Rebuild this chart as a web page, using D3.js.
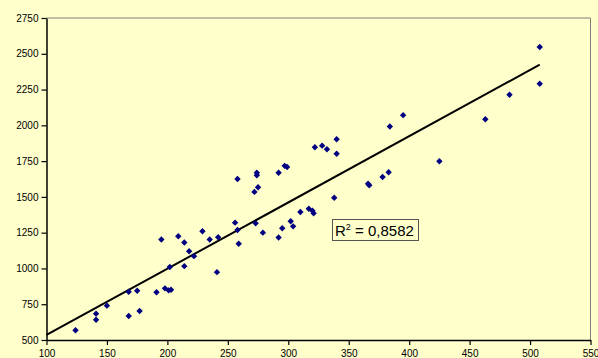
<!DOCTYPE html>
<html><head><meta charset="utf-8">
<script src="https://cdn.jsdelivr.net/npm/d3@7"></script>
<style>
html,body{margin:0;padding:0;background:#FFFFCC;}
svg{display:block;}
text{font-family:Arial,"Liberation Sans",sans-serif;}
</style></head><body>
<svg id="c" width="598" height="358"></svg>
<script>
const xValues = [124,141,141,150,168,168,175,177,191,198,201,203,202,214,218,222,214,195,209,229,235,242,241,256,258,259,258,274,274,275,272,273,279,292,297,299,292,295,302,304,310,317,320,321,322,328,332,340,340,338,366,367,378,383,384,395,425,463,483,508,508];
const yValues = [568,684,642,740,837,668,844,703,834,861,847,851,1010,1016,1120,1086,1181,1202,1225,1260,1202,1218,974,1320,1269,1173,1625,1669,1651,1567,1535,1315,1250,1669,1717,1709,1216,1281,1330,1294,1394,1417,1403,1385,1847,1858,1833,1903,1801,1494,1592,1581,1639,1672,1992,2071,1749,2042,2214,2547,2291];
const xTicks = [100,150,200,250,300,350,400,450,500,550];
const yTicks = [500,750,1000,1250,1500,1750,2000,2250,2500,2750];
// linear trendline: y = slope * x + intercept
const trendSlope = 4.63;
const trendIntercept = 72;
const trendRange = [100, 508];
const r2Label = "0,8582";

const svg = d3.select("#c");
const L=46.5, R=590.5, T=18, B=340;
const x = d3.scaleLinear().domain([100,550]).range([L,R]);
const y = d3.scaleLinear().domain([500,2750]).range([B,T]);

// frame top/right
svg.append("path").attr("d",`M${L},${T}H${R}V${B}`).attr("fill","none").attr("stroke","#808080").attr("stroke-width",1);

const xa = svg.append("g").attr("transform",`translate(0,${B})`)
  .call(d3.axisBottom(x).tickValues(xTicks).tickFormat(d3.format("d")).tickSize(5).tickPadding(5).tickSizeOuter(0));
const ya = svg.append("g").attr("transform",`translate(${L},0)`)
  .call(d3.axisLeft(y).tickValues(yTicks).tickFormat(d3.format("d")).tickSize(5).tickPadding(3).tickSizeOuter(0));
[xa,ya].forEach(a=>{
  a.select(".domain").attr("stroke","#000").attr("stroke-width",1.5);
  a.selectAll(".tick line").attr("stroke","#000").attr("stroke-width",1.2);
  a.selectAll("text").attr("font-size","10px").attr("fill","#000").attr("font-family","Arial, 'Liberation Sans', sans-serif");
});
xa.selectAll("text").attr("dy","0.71em");

// trendline
svg.append("line")
  .attr("x1",x(trendRange[0])).attr("y1",y(trendIntercept+trendSlope*trendRange[0]))
  .attr("x2",x(trendRange[1])).attr("y2",y(trendIntercept+trendSlope*trendRange[1]))
  .attr("stroke","#000").attr("stroke-width",2);

// markers
const pts = xValues.map((v,i)=>[v,yValues[i]]);
svg.append("g").selectAll("path").data(pts).join("path")
  .attr("d",d=>{const cx=x(d[0]),cy=y(d[1]),h=3.2;return `M${cx},${cy-h}L${cx+h},${cy}L${cx},${cy+h}L${cx-h},${cy}Z`;})
  .attr("fill","#000080");

// R2 label
const g = svg.append("g");
g.append("rect").attr("x",332.5).attr("y",219.5).attr("width",86).attr("height",21).attr("fill","#FFFFCC").attr("stroke","#555").attr("stroke-width",1);
const t = g.append("text").attr("x",335).attr("y",236).attr("font-size","15px").attr("fill","#000");
t.append("tspan").text("R");
t.append("tspan").attr("font-size","9px").attr("dy","-6").text("2");
t.append("tspan").attr("dy","6").text(" = " + r2Label);
</script>
</body></html>
